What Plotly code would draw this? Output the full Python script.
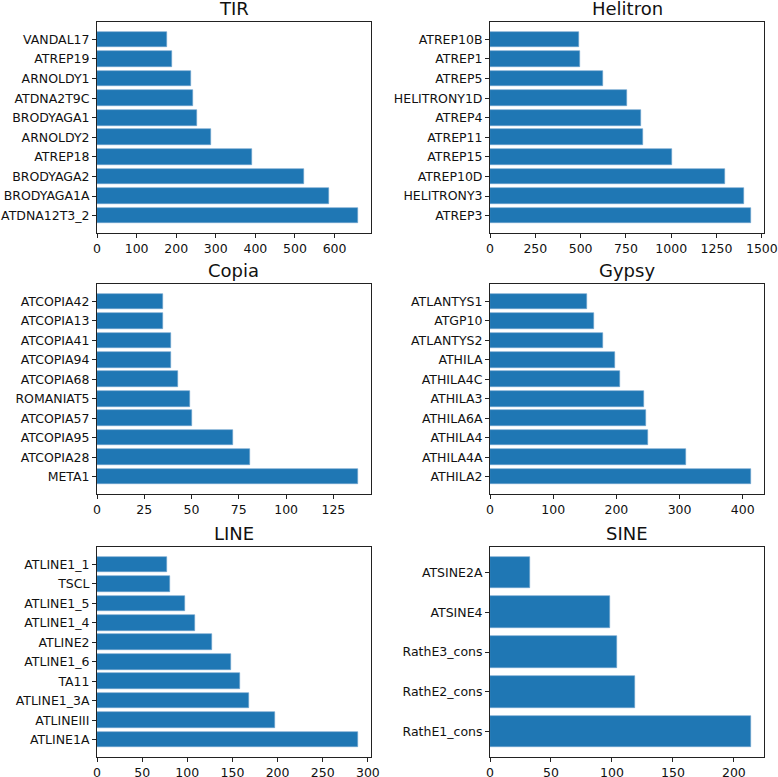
import plotly.graph_objects as go
from plotly.subplots import make_subplots

tir_names = ["ATDNA12T3_2", "BRODYAGA1A", "BRODYAGA2", "ATREP18", "ARNOLDY2",
             "BRODYAGA1", "ATDNA2T9C", "ARNOLDY1", "ATREP19", "VANDAL17"]
tir_counts = [659, 585, 524, 391, 288, 252, 242, 237, 189, 178]

helitron_names = ["ATREP3", "HELITRONY3", "ATREP10D", "ATREP15", "ATREP11",
                  "ATREP4", "HELITRONY1D", "ATREP5", "ATREP1", "ATREP10B"]
helitron_counts = [1440, 1401, 1296, 1005, 843, 831, 756, 623, 498, 490]

copia_names = ["META1", "ATCOPIA28", "ATCOPIA95", "ATCOPIA57", "ROMANIAT5",
               "ATCOPIA68", "ATCOPIA94", "ATCOPIA41", "ATCOPIA13", "ATCOPIA42"]
copia_counts = [138, 81, 72, 50, 49, 43, 39, 39, 35, 35]

gypsy_names = ["ATHILA2", "ATHILA4A", "ATHILA4", "ATHILA6A", "ATHILA3",
               "ATHILA4C", "ATHILA", "ATLANTYS2", "ATGP10", "ATLANTYS1"]
gypsy_counts = [413, 310, 250, 247, 243, 206, 198, 179, 165, 153]

line_names = ["ATLINE1A", "ATLINEIII", "ATLINE1_3A", "TA11", "ATLINE1_6",
              "ATLINE2", "ATLINE1_4", "ATLINE1_5", "TSCL", "ATLINE1_1"]
line_counts = [289, 197, 168, 158, 148, 127, 109, 98, 81, 78]

sine_names = ["RathE1_cons", "RathE2_cons", "RathE3_cons", "ATSINE4", "ATSINE2A"]
sine_counts = [214, 119, 104, 98, 33]

panels = [
    ("TIR", tir_names, tir_counts, [0, 100, 200, 300, 400, 500, 600]),
    ("Helitron", helitron_names, helitron_counts, [0, 250, 500, 750, 1000, 1250, 1500]),
    ("Copia", copia_names, copia_counts, [0, 25, 50, 75, 100, 125]),
    ("Gypsy", gypsy_names, gypsy_counts, [0, 100, 200, 300, 400]),
    ("LINE", line_names, line_counts, [0, 50, 100, 150, 200, 250, 300]),
    ("SINE", sine_names, sine_counts, [0, 50, 100, 150, 200]),
]

W, H = 778, 777
xdoms = [(97, 371), (490, 764)]
ydoms = [(22, 233), (284, 494), (547, 757)]

fig = make_subplots(rows=3, cols=2)
font = "DejaVu Sans"

for i, (title, names, counts, ticks) in enumerate(panels):
    r, c = i // 2 + 1, i % 2 + 1
    fig.add_trace(go.Bar(x=counts, y=names, orientation="h", width=0.8,
                         marker=dict(color="#1f77b4", line=dict(width=0.6, color="#6fa3cf")),
                         showlegend=False), row=r, col=c)
    n = len(names)
    pad = 0.05 * (n - 0.2)
    x0, x1 = xdoms[c - 1]
    y0, y1 = ydoms[r - 1]
    axis_style = dict(showline=True, linecolor="#222", linewidth=1, mirror=True,
                      ticks="outside", ticklen=4, tickcolor="#222", showgrid=False,
                      zeroline=False, automargin=False, ticklabeloverflow="allow",
                      tickfont=dict(family=font, size=12.5, color="#111"))
    fig.update_xaxes(range=[0, max(counts) * 1.05], tickvals=ticks,
                     domain=[x0 / W, x1 / W], row=r, col=c, **axis_style)
    fig.update_yaxes(range=[-0.4 - pad, n - 0.6 + pad], type="category",
                     domain=[1 - y1 / H, 1 - y0 / H], row=r, col=c, **axis_style)
    fig.add_annotation(text=title, x=(x0 + x1) / 2 / W, y=1 - y0 / H + 1 / H,
                       xref="paper", yref="paper", xanchor="center", yanchor="bottom",
                       showarrow=False, font=dict(family=font, size=18, color="#111"))

fig.update_layout(width=W, height=H, margin=dict(l=0, r=0, t=0, b=0),
                  plot_bgcolor="white", paper_bgcolor="white", bargap=0)

# drop the browser's default 8px body margin so the figure sits at the page corner
fig.write_html("out.html", config={"displayModeBar": False},
               post_script="document.body.style.margin='0';")
